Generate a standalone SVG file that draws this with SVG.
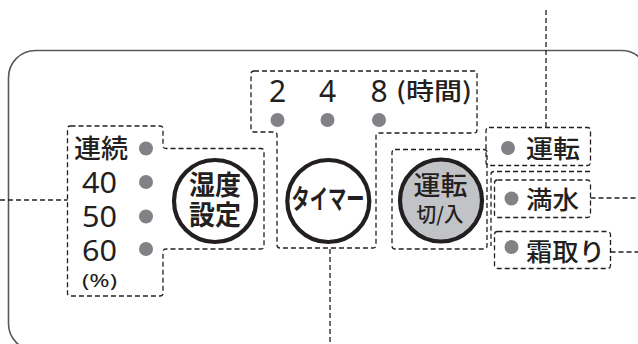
<svg xmlns="http://www.w3.org/2000/svg" width="638" height="344" viewBox="0 0 638 344">
<style>
.panel{fill:none;stroke:#58595b;stroke-width:1.6}
.dash{fill:none;stroke:#231f20;stroke-width:1.3;stroke-dasharray:5 3}
.dot{fill:#808285}
.btn{fill:#fff;stroke:#231f20;stroke-width:4.2}
.btnon{fill:#c2c3c6;stroke:#231f20;stroke-width:4.2}
.t{font-family:"Noto Sans CJK JP","Noto Sans",sans-serif;fill:#231f20;font-weight:500}
.d{font-family:"Noto Sans","Noto Sans CJK JP",sans-serif;fill:#231f20}
.lbl{font-size:25px}
.num{font-size:29px}
.bt{font-weight:bold}
</style>
<rect class="panel" x="8.5" y="50.5" width="640" height="300" rx="27"/>
<g id="connectors">
<line class="dash" x1="546" y1="10" x2="546" y2="127.5"/>
<line class="dash" x1="0" y1="200" x2="67.5" y2="200"/>
<line class="dash" x1="330" y1="249" x2="330" y2="344"/>
<line class="dash" x1="590.5" y1="198" x2="638" y2="198"/>
<line class="dash" x1="610.5" y1="252" x2="638" y2="252"/>
</g>
<g id="humidity">
<path class="dash" d="M70.5,126 H160 Q163,126 163,129 V145.5 Q163,148.5 166,148.5 H261 Q264,148.5 264,151.5 V246 Q264,249 261,249 H166 Q163,249 163,252 V293 Q163,296 160,296 H70.5 Q67.5,296 67.5,293 V129 Q67.5,126 70.5,126 Z"/>
<text class="t" x="74" y="158" font-size="26" textLength="54" lengthAdjust="spacingAndGlyphs">連続</text>
<text class="d num" x="82" y="192.5" textLength="35" lengthAdjust="spacingAndGlyphs">40</text>
<text class="d num" x="82" y="227" textLength="35" lengthAdjust="spacingAndGlyphs">50</text>
<text class="d num" x="82" y="261" textLength="35" lengthAdjust="spacingAndGlyphs">60</text>
<text class="d" x="82" y="287" font-size="18" textLength="35" lengthAdjust="spacingAndGlyphs">(%)</text>
<circle class="dot" cx="146" cy="148.5" r="7"/>
<circle class="dot" cx="146" cy="182" r="7"/>
<circle class="dot" cx="146" cy="216.5" r="7"/>
<circle class="dot" cx="146" cy="249" r="7"/>
<circle class="btn" cx="215" cy="201" r="41"/>
<text class="t bt" x="215" y="195" font-size="27" text-anchor="middle" textLength="52" lengthAdjust="spacingAndGlyphs">湿度</text>
<text class="t bt" x="215" y="225" font-size="27" text-anchor="middle" textLength="52" lengthAdjust="spacingAndGlyphs">設定</text>
</g>
<g id="timer">
<path class="dash" d="M254,71 H474 Q477,71 477,74 V130 Q477,133 474,133 H379 Q376,133 376,136 V245 Q376,248 373,248 H280 Q277,248 277,245 V135 Q277,132 274,132 H254 Q251,132 251,129 V74 Q251,71 254,71 Z"/>
<text class="d" x="277.5" y="101.5" font-size="30" text-anchor="middle">2</text>
<text class="d" x="327.5" y="101.5" font-size="30" text-anchor="middle">4</text>
<text class="d" x="379" y="101.5" font-size="30" text-anchor="middle">8</text>
<text class="t" x="396" y="100" font-size="24" textLength="76" lengthAdjust="spacingAndGlyphs">(時間)</text>
<circle class="dot" cx="277.5" cy="120" r="7"/>
<circle class="dot" cx="327.5" cy="120" r="7"/>
<circle class="dot" cx="379" cy="120" r="7"/>
<circle class="btn" cx="328.3" cy="201" r="41"/>
<text class="t bt" x="328" y="209" font-size="27" text-anchor="middle" textLength="73" lengthAdjust="spacingAndGlyphs">タイマー</text>
</g>
<g id="power">
<rect class="dash" x="392" y="149.5" width="95" height="99.5" rx="3"/>
<path class="dash" d="M590,171.5 H494 Q491,171.5 491,174.5 V246"/>
<circle class="btnon" cx="441" cy="200.5" r="41"/>
<text class="t" x="440.5" y="195" font-size="26" text-anchor="middle" textLength="54" lengthAdjust="spacingAndGlyphs">運転</text>
<text class="t" x="440" y="222" font-size="20" text-anchor="middle" textLength="47" lengthAdjust="spacingAndGlyphs">切/入</text>
</g>
<g id="run-lamp">
<rect class="dash" x="486" y="127.5" width="104.5" height="38" rx="3"/>
<circle class="dot" cx="508" cy="148" r="7"/>
<text class="t lbl" x="526" y="158" textLength="54" lengthAdjust="spacingAndGlyphs">運転</text>
</g>
<g id="full-lamp">
<rect class="dash" x="494.5" y="180" width="96" height="37.5" rx="3"/>
<circle class="dot" cx="511.5" cy="198.5" r="7"/>
<text class="t lbl" x="526" y="209" textLength="53" lengthAdjust="spacingAndGlyphs">満水</text>
</g>
<g id="defrost-lamp">
<rect class="dash" x="494.5" y="231.5" width="116" height="37" rx="3"/>
<circle class="dot" cx="511.5" cy="247" r="7"/>
<text class="t lbl" x="526" y="260.5" textLength="79" lengthAdjust="spacingAndGlyphs">霜取り</text>
</g>
</svg>
